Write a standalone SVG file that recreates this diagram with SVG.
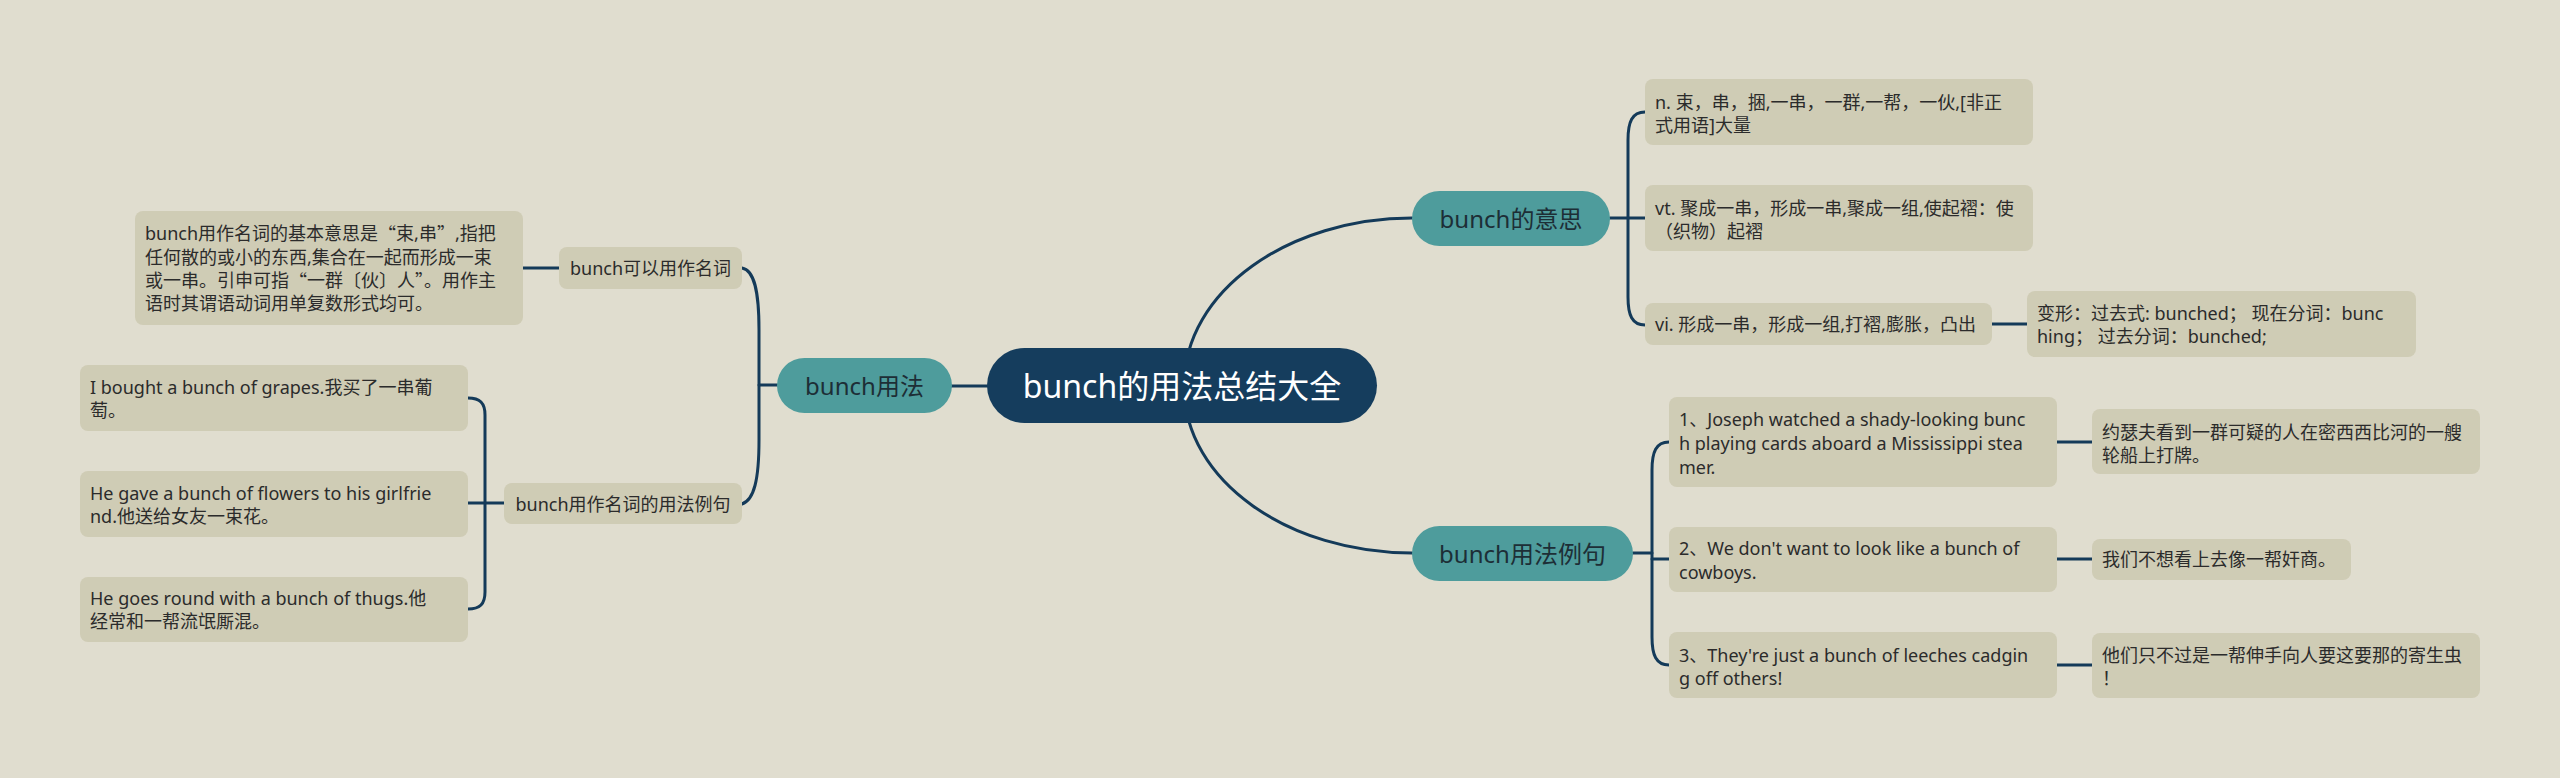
<svg xmlns="http://www.w3.org/2000/svg" width="2560" height="778" viewBox="0 0 2560 778">
<style>
.bg{fill:#e0ddcf}
.leaf{fill:#cfccb5}
.teal{fill:#4e9c9c}
.root{fill:#153d5d}
.c{fill:none;stroke:#143a59;stroke-width:3;stroke-linecap:round}
text{font-family:"Noto Sans","Noto Sans CJK SC",sans-serif;dominant-baseline:central}
.cj{font-family:"Noto Sans CJK SC",sans-serif}
.t{font-size:18px;fill:#2b2b2b}
.tm{text-anchor:middle}
.t1{font-size:24px;fill:#1d2e36;text-anchor:middle}
.t0{font-size:32px;fill:#ffffff;text-anchor:middle}
</style>
<rect class="bg" x="0" y="0" width="2560" height="778"/>
<g id="connectors">
<path class="c" d="M950 386 L987 386"/>
<path class="c" d="M777 385 L759 385"/>
<path class="c" d="M742 268 C754 270 759 290 759 330 L759 440 C759 480 754 500 742 504"/>
<path class="c" d="M523 268 L559 268"/>
<path class="c" d="M504 503 L468 503"/>
<path class="c" d="M468 398 C480 398 485 403 485 415 L485 592 C485 604 480 609 468 609"/>
<path class="c" d="M1184 386 C1184 290 1290 218 1412 218"/>
<path class="c" d="M1184 386 C1184 482 1290 553 1412 553"/>
<path class="c" d="M1610 218 L1645 218"/>
<path class="c" d="M1645 112 C1632 112 1628 122 1628 140 L1628 297 C1628 315 1632 325 1645 325"/>
<path class="c" d="M1992 324 L2027 324"/>
<path class="c" d="M1633 553 L1652 553 M1652 559 L1669 559"/>
<path class="c" d="M1669 442 C1656 442 1652 452 1652 470 L1652 637 C1652 655 1656 665 1669 665"/>
<path class="c" d="M2057 442 L2092 442"/>
<path class="c" d="M2057 559 L2092 559"/>
<path class="c" d="M2057 665 L2092 665"/>
</g>
<g id="n-root"><rect class="root" x="987" y="348" width="390" height="75" rx="37.5"/><text class="t0" x="1182" y="385.5">bunch的用法总结大全</text></g>
<g id="n-usage"><rect class="teal" x="777" y="358" width="175" height="55" rx="27.5"/><text class="t1" x="864.5" y="385.5">bunch用法</text></g>
<g id="n-noun"><rect class="leaf" x="559" y="247" width="183" height="42" rx="8"/><text class="t tm" x="650.5" y="268">bunch可以用作名词</text></g>
<g id="n-noun-def"><rect class="leaf" x="135" y="211" width="388" height="114" rx="8"/><text class="t"><tspan x="145" y="233">bunch用作名词的基本意思是<tspan class="cj">“</tspan>束,串<tspan class="cj">”</tspan>,指把</tspan><tspan x="145" y="257">任何散的或小的东西,集合在一起而形成一束</tspan><tspan x="145" y="280">或一串。引申可指<tspan class="cj">“</tspan>一群〔伙〕人<tspan class="cj">”</tspan>。用作主</tspan><tspan x="145" y="303">语时其谓语动词用单复数形式均可。</tspan></text></g>
<g id="n-noun-ex"><rect class="leaf" x="504" y="483" width="238" height="41" rx="8"/><text class="t tm" x="623" y="503.5">bunch用作名词的用法例句</text></g>
<g id="n-ex1"><rect class="leaf" x="80" y="365" width="388" height="66" rx="8"/><text class="t"><tspan x="90" y="387">I bought a bunch of grapes.我买了一串葡</tspan><tspan x="90" y="410">萄。</tspan></text></g>
<g id="n-ex2"><rect class="leaf" x="80" y="471" width="388" height="66" rx="8"/><text class="t"><tspan x="90" y="493">He gave a bunch of flowers to his girlfrie</tspan><tspan x="90" y="516">nd.他送给女友一束花。</tspan></text></g>
<g id="n-ex3"><rect class="leaf" x="80" y="577" width="388" height="65" rx="8"/><text class="t"><tspan x="90" y="598">He goes round with a bunch of thugs.他</tspan><tspan x="90" y="621">经常和一帮流氓厮混。</tspan></text></g>
<g id="n-meaning"><rect class="teal" x="1412" y="191" width="198" height="55" rx="27.5"/><text class="t1" x="1511" y="218.5">bunch的意思</text></g>
<g id="n-m1"><rect class="leaf" x="1645" y="79" width="388" height="66" rx="8"/><text class="t"><tspan x="1655" y="102">n. 束，串，捆,一串，一群,一帮，一伙,[非正</tspan><tspan x="1655" y="125">式用语]大量</tspan></text></g>
<g id="n-m2"><rect class="leaf" x="1645" y="185" width="388" height="66" rx="8"/><text class="t"><tspan x="1655" y="208">vt. 聚成一串，形成一串,聚成一组,使起褶：使</tspan><tspan x="1655" y="231">（织物）起褶</tspan></text></g>
<g id="n-m3"><rect class="leaf" x="1645" y="303" width="347" height="42" rx="8"/><text class="t" x="1655" y="324">vi. 形成一串，形成一组,打褶,膨胀，凸出</text></g>
<g id="n-m3a"><rect class="leaf" x="2027" y="291" width="389" height="66" rx="8"/><text class="t"><tspan x="2037" y="313">变形：过去式: bunched； 现在分词：bunc</tspan><tspan x="2037" y="336">hing； 过去分词：bunched;</tspan></text></g>
<g id="n-examples"><rect class="teal" x="1412" y="526" width="221" height="55" rx="27.5"/><text class="t1" x="1522.5" y="553.5">bunch用法例句</text></g>
<g id="n-e1"><rect class="leaf" x="1669" y="397" width="388" height="90" rx="8"/><text class="t"><tspan x="1679" y="419">1、Joseph watched a shady-looking bunc</tspan><tspan x="1679" y="443">h playing cards aboard a Mississippi stea</tspan><tspan x="1679" y="467">mer.</tspan></text></g>
<g id="n-e2"><rect class="leaf" x="1669" y="527" width="388" height="65" rx="8"/><text class="t"><tspan x="1679" y="548">2、We don't want to look like a bunch of</tspan><tspan x="1679" y="572">cowboys.</tspan></text></g>
<g id="n-e3"><rect class="leaf" x="1669" y="632" width="388" height="66" rx="8"/><text class="t"><tspan x="1679" y="655">3、They're just a bunch of leeches cadgin</tspan><tspan x="1679" y="678">g off others!</tspan></text></g>
<g id="n-c1"><rect class="leaf" x="2092" y="409" width="388" height="65" rx="8"/><text class="t"><tspan x="2102" y="432">约瑟夫看到一群可疑的人在密西西比河的一艘</tspan><tspan x="2102" y="455">轮船上打牌。</tspan></text></g>
<g id="n-c2"><rect class="leaf" x="2092" y="539" width="259" height="41" rx="8"/><text class="t" x="2102" y="559">我们不想看上去像一帮奸商。</text></g>
<g id="n-c3"><rect class="leaf" x="2092" y="633" width="388" height="65" rx="8"/><text class="t"><tspan x="2102" y="655">他们只不过是一帮伸手向人要这要那的寄生虫</tspan><tspan x="2102" y="678">！</tspan></text></g>
</svg>
